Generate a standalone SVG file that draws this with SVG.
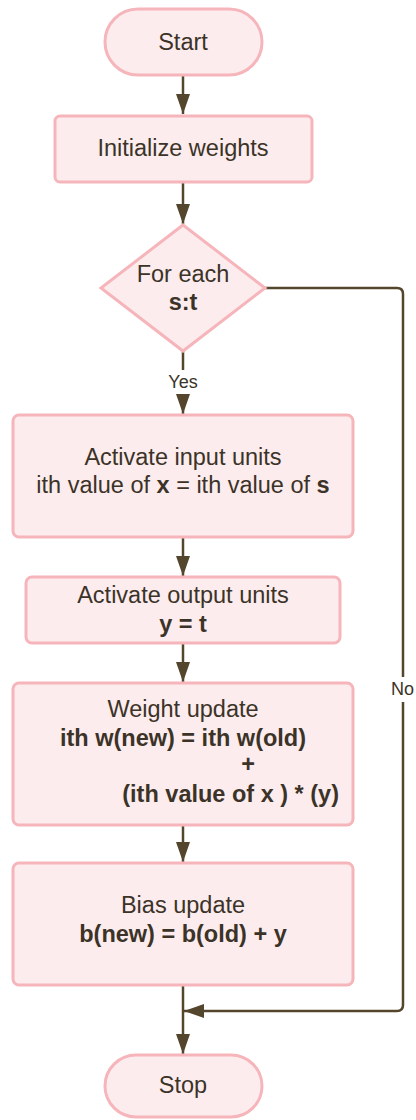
<svg xmlns="http://www.w3.org/2000/svg" width="416" height="1120" viewBox="0 0 416 1120">
  <defs>
    <style>
      .shape { fill: #fdecee; stroke: #f6b5ba; stroke-width: 3; }
      .txt { font-family: "Liberation Sans", Arial, sans-serif; font-size: 23.5px; fill: #3b3327; text-anchor: middle; }
      .txt.end { text-anchor: end; }
      .b { font-weight: bold; }
      .lbl { font-family: "Liberation Sans", Arial, sans-serif; font-size: 18px; fill: #3b3327; }
      .wire { fill: none; stroke: #54462d; stroke-width: 2.5; }
    </style>
    <marker id="arrow" viewBox="0 0 20 14" refX="20" refY="7" markerWidth="20" markerHeight="14" markerUnits="userSpaceOnUse" orient="auto">
      <path d="M0,0 L20,7 L0,14 Z" fill="#54462d"/>
    </marker>
  </defs>
  <rect width="416" height="1120" fill="#ffffff"/>

  <!-- connectors -->
  <g id="connectors">
    <path class="wire" d="M183,76 V114" marker-end="url(#arrow)"/>
    <path class="wire" d="M183,183 V224" marker-end="url(#arrow)"/>
    <path class="wire" d="M183,351 V370"/>
    <path class="wire" d="M183,396 V414" marker-end="url(#arrow)"/>
    <path class="wire" d="M183,538 V576" marker-end="url(#arrow)"/>
    <path class="wire" d="M183,644 V682" marker-end="url(#arrow)"/>
    <path class="wire" d="M183,826 V862" marker-end="url(#arrow)"/>
    <path class="wire" d="M183,986 V1054" marker-end="url(#arrow)"/>
    <!-- "No" branch: decision to Stop -->
    <path class="wire" d="M265,288 H397 Q403,288 403,294 V677"/>
    <path class="wire" d="M403,702 V1005 Q403,1011 397,1011 H184" marker-end="url(#arrow)"/>
    <text class="lbl" x="183" y="388" text-anchor="middle">Yes</text>
    <text class="lbl" x="391" y="695">No</text>
  </g>

  <g id="start">
    <rect class="shape" x="105" y="9" width="157" height="66" rx="33"/>
    <text class="txt" x="183" y="50">Start</text>
  </g>

  <g id="init">
    <rect class="shape" x="55" y="116" width="257" height="66" rx="5"/>
    <text class="txt" x="183" y="156">Initialize weights</text>
  </g>

  <g id="decision">
    <polygon class="shape" points="183,225 265,288 183,351 101,288"/>
    <text class="txt" x="183" y="282">For each</text>
    <text class="txt b" x="183" y="310">s:t</text>
  </g>

  <g id="input">
    <rect class="shape" x="13" y="415" width="340" height="122" rx="6"/>
    <text class="txt" x="183" y="465">Activate input units</text>
    <text class="txt" x="183" y="493">ith value of <tspan class="b">x</tspan> = ith value of <tspan class="b">s</tspan></text>
  </g>

  <g id="output">
    <rect class="shape" x="26" y="577" width="314" height="66" rx="6"/>
    <text class="txt" x="183" y="603">Activate output units</text>
    <text class="txt b" x="183" y="632">y = t</text>
  </g>

  <g id="weight">
    <rect class="shape" x="13" y="683" width="340" height="142" rx="6"/>
    <text class="txt" x="183" y="717">Weight update</text>
    <text class="txt b" x="183" y="746">ith w(new) = ith w(old)</text>
    <text class="txt b" x="248" y="772">+</text>
    <text class="txt b end" x="339" y="802">(ith value of x ) * (y)</text>
  </g>

  <g id="bias">
    <rect class="shape" x="13" y="863" width="340" height="122" rx="6"/>
    <text class="txt" x="183" y="913">Bias update</text>
    <text class="txt b" x="183" y="942">b(new) = b(old) + y</text>
  </g>

  <g id="stop">
    <rect class="shape" x="105" y="1055" width="157" height="62" rx="31"/>
    <text class="txt" x="183" y="1093">Stop</text>
  </g>
</svg>
